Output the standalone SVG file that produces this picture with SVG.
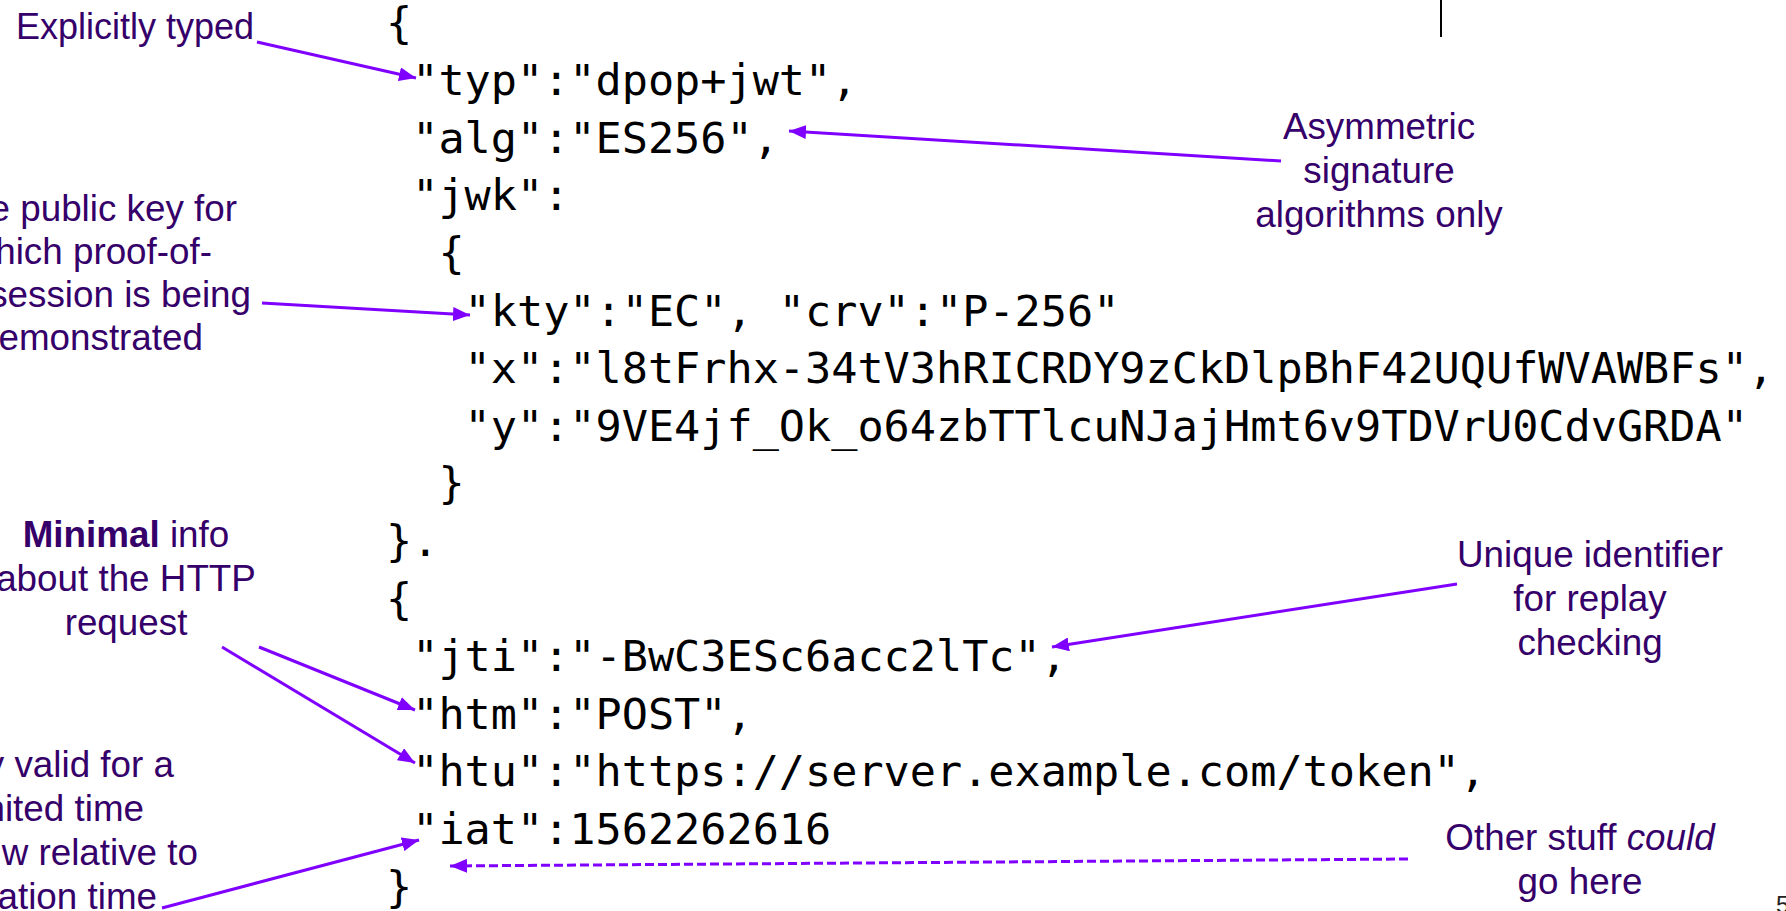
<svg xmlns="http://www.w3.org/2000/svg" width="1786" height="911" viewBox="0 0 1786 911">
<style>
.code{font-family:"DejaVu Sans Mono","Liberation Mono",monospace;font-size:43.5px;fill:#000}
.ann{font-family:"Liberation Sans",Arial,sans-serif;font-size:36.8px;fill:#350069}
.mid{text-anchor:middle}
.end{text-anchor:end}
.arr{stroke:#8000FF;stroke-width:3;fill:none;marker-end:url(#ah)}
.dash{stroke:#8000FF;stroke-width:3;fill:none;stroke-dasharray:9 4;marker-end:url(#ah)}
</style>
<defs>
<marker id="ah" markerUnits="userSpaceOnUse" markerWidth="18" markerHeight="14" refX="17" refY="7" orient="auto">
<path d="M0,0 L17,7 L0,14 Z" fill="#8000FF"/>
</marker>
</defs>
<rect width="1786" height="911" fill="#fff"/>
<line x1="1441" y1="0" x2="1441" y2="37" stroke="#000" stroke-width="2"/>
<g id="code">
<text class="code" x="386" y="37.5">{</text>
<text class="code" x="412.2" y="95.1">"typ":"dpop+jwt",</text>
<text class="code" x="412.2" y="152.7">"alg":"ES256",</text>
<text class="code" x="412.2" y="210.3">"jwk":</text>
<text class="code" x="438.4" y="267.9">{</text>
<text class="code" x="464.6" y="325.5">"kty":"EC", "crv":"P-256"</text>
<text class="code" x="464.6" y="383.1">"x":"l8tFrhx-34tV3hRICRDY9zCkDlpBhF42UQUfWVAWBFs",</text>
<text class="code" x="464.6" y="440.7">"y":"9VE4jf_Ok_o64zbTTlcuNJajHmt6v9TDVrU0CdvGRDA"</text>
<text class="code" x="438.4" y="498.3">}</text>
<text class="code" x="386" y="555.9">}.</text>
<text class="code" x="386" y="613.5">{</text>
<text class="code" x="412.2" y="671.1">"jti":"-BwC3ESc6acc2lTc",</text>
<text class="code" x="412.2" y="728.7">"htm":"POST",</text>
<text class="code" x="412.2" y="786.3">"htu":"https://server.example.com/token",</text>
<text class="code" x="412.2" y="843.9">"iat":1562262616</text>
<text class="code" x="386" y="901.5">}</text>
</g>
<g id="note-typed">
<text class="ann end" x="254" y="39" style="font-size:36px">Explicitly typed</text>
</g>
<g id="note-key">
<text class="ann end" x="237" y="221">e public key for</text>
<text class="ann end" x="212" y="264">hich proof-of-</text>
<text class="ann end" x="251" y="307">session is being</text>
<text class="ann end" x="203" y="350">emonstrated</text>
</g>
<g id="note-asym">
<text class="ann mid" x="1379" y="139">Asymmetric</text>
<text class="ann mid" x="1379" y="183">signature</text>
<text class="ann mid" x="1379" y="227">algorithms only</text>
</g>
<g id="note-minimal">
<text class="ann mid" x="126" y="547"><tspan font-weight="bold">Minimal</tspan> info</text>
<text class="ann mid" x="126" y="591">about the HTTP</text>
<text class="ann mid" x="126" y="635">request</text>
</g>
<g id="note-unique">
<text class="ann mid" x="1590" y="567">Unique identifier</text>
<text class="ann mid" x="1590" y="611">for replay</text>
<text class="ann mid" x="1590" y="655">checking</text>
</g>
<g id="note-valid">
<text class="ann end" x="174" y="777">y valid for a</text>
<text class="ann end" x="144" y="821">nited time</text>
<text class="ann end" x="198" y="865">w relative to</text>
<text class="ann end" x="157" y="909">ation time</text>
</g>
<g id="note-other">
<text class="ann mid" x="1580" y="850">Other stuff <tspan font-style="italic">could</tspan></text>
<text class="ann mid" x="1580" y="894">go here</text>
</g>
<g id="page">
<text x="1776" y="913" style="font-family:'Liberation Sans',Arial,sans-serif;font-size:24px;fill:#222">5</text>
</g>
<g id="connectors">
<line class="arr" x1="257" y1="42" x2="416" y2="78"/>
<line class="arr" x1="1281" y1="161" x2="789" y2="131"/>
<line class="arr" x1="262" y1="303" x2="470" y2="315"/>
<line class="arr" x1="1457" y1="584" x2="1052" y2="647"/>
<line class="arr" x1="259" y1="647" x2="415" y2="710"/>
<line class="arr" x1="222" y1="647" x2="415" y2="763"/>
<line class="arr" x1="162" y1="908" x2="419" y2="840"/>
<line class="dash" x1="1408" y1="859" x2="450" y2="866"/>
</g>
</svg>
